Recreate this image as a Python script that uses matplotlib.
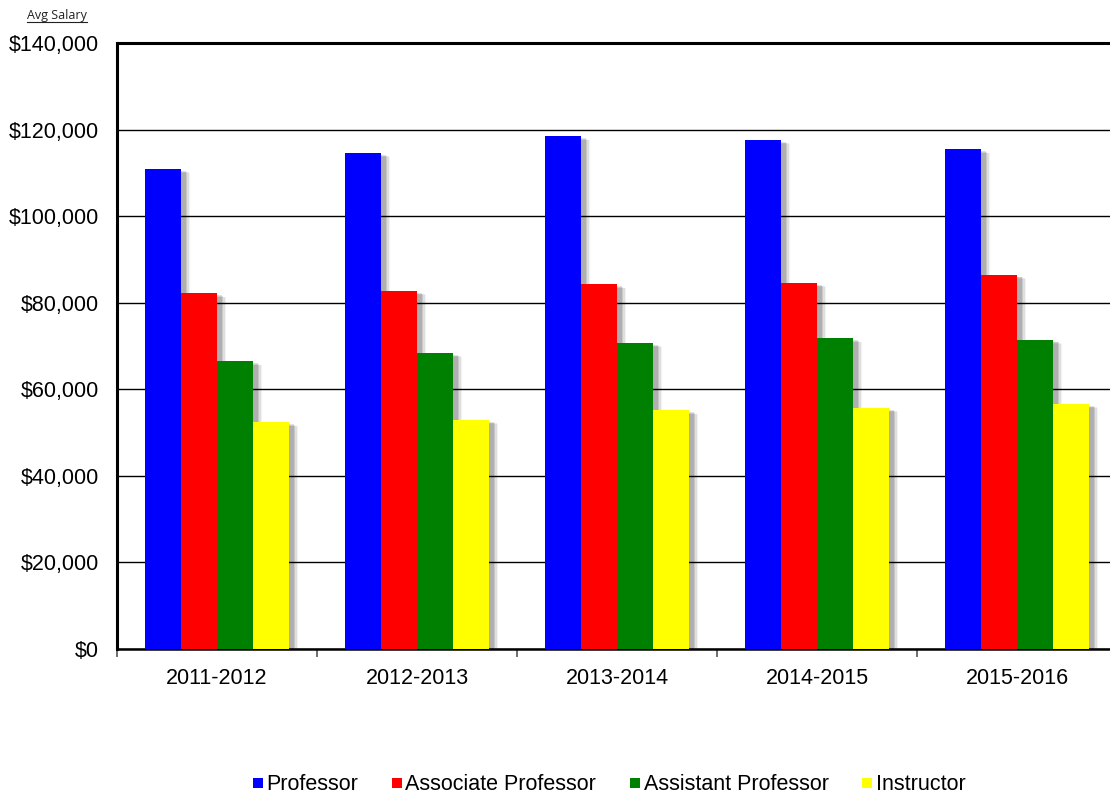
import matplotlib
matplotlib.use("Agg")
import matplotlib.pyplot as plt
import matplotlib.patheffects as pe
from matplotlib.lines import Line2D
from matplotlib.ticker import FuncFormatter, MultipleLocator
import numpy as np

years = ["2011-2012", "2012-2013", "2013-2014", "2014-2015", "2015-2016"]
series_names = ["Professor", "Associate Professor", "Assistant Professor", "Instructor"]
professor = [110900, 114600, 118500, 117600, 115500]
associate = [82200, 82700, 84300, 84600, 86500]
assistant = [66500, 68400, 70700, 71800, 71500]
instructor = [52400, 52900, 55200, 55700, 56600]
colors = ["#0000FF", "#FF0000", "#008000", "#FFFF00"]

plt.rcParams['font.family'] = ['Liberation Sans', 'DejaVu Sans']

fig = plt.figure(figsize=(11.10, 7.94), dpi=100)
ax = fig.add_axes([117/1110, 145/794, 1000/1110, 606/794])

x = np.arange(len(years))
w = 0.18
shadow = [
    pe.SimplePatchShadow(offset=(6.5, -3.0), shadow_rgbFace='black', alpha=0.05),
    pe.SimplePatchShadow(offset=(5.5, -2.5), shadow_rgbFace='black', alpha=0.08),
    pe.SimplePatchShadow(offset=(4.5, -2.0), shadow_rgbFace='black', alpha=0.10),
    pe.SimplePatchShadow(offset=(3.5, -1.5), shadow_rgbFace='black', alpha=0.12),
    pe.Normal(),
]
all_series = [professor, associate, assistant, instructor]
for i, (vals, c) in enumerate(zip(all_series, colors)):
    bars = ax.bar(x + (i - 1.5) * w, vals, width=w, color=c, linewidth=0, zorder=3)
    for b in bars:
        b.set_path_effects(shadow)

ax.set_xlim(-0.5, len(years) - 0.5)
ax.set_ylim(0, 140000)
ax.yaxis.set_major_locator(MultipleLocator(20000))
ax.yaxis.set_major_formatter(FuncFormatter(lambda v, p: "${:,.0f}".format(v)))
ax.grid(axis='y', color='black', linewidth=1.0, zorder=0)
ax.set_axisbelow(True)

ax.set_xticks(x)
ax.set_xticklabels(years)
ax.set_xticks(np.arange(len(years) + 1) - 0.5, minor=True)
ax.tick_params(axis='x', which='major', length=0, pad=14, labelsize=15.5)
ax.tick_params(axis='x', which='minor', length=6, width=1.2, color='#555555')
ax.tick_params(axis='y', length=0, pad=13, labelsize=15.5)

for s in ['left', 'top']:
    ax.spines[s].set_linewidth(2.2)
ax.spines['bottom'].set_linewidth(1.8)
ax.spines['right'].set_visible(False)

# y-axis title, underlined
t = fig.text(27/1110, 1 - 16/794, "Avg Salary", fontsize=9, family=['Open Sans', 'DejaVu Sans'],
             ha='left', va='center', color='#222222')
fig.canvas.draw()
bb = t.get_window_extent(renderer=fig.canvas.get_renderer())
inv = fig.transFigure.inverted()
(x0, y0), (x1, y1) = inv.transform([[bb.x0, bb.y0], [bb.x1, bb.y1]])
fig.add_artist(Line2D([x0, x1], [y0 + 0.001, y0 + 0.001], transform=fig.transFigure,
                      color='#222222', linewidth=0.8))

handles = [Line2D([], [], linestyle='none', marker='s', markersize=7.5,
                  markerfacecolor=c, markeredgewidth=0) for c in colors]
fig.legend(handles, series_names, loc='center', bbox_to_anchor=(609/1110, 1 - 785/794),
           ncol=4, frameon=False, fontsize=15.5, handlelength=0.5, handletextpad=0.15,
           columnspacing=1.55, borderpad=0)

fig.savefig("out.png", dpi=100)
